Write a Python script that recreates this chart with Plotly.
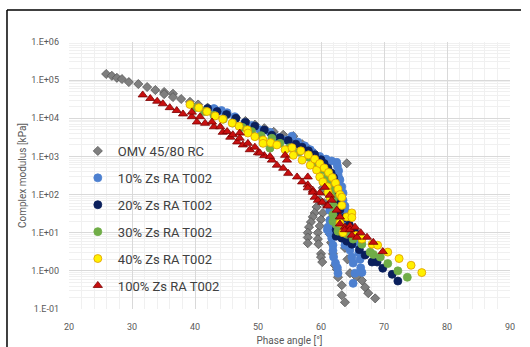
import plotly.graph_objects as go

# ---------------- data (phase angle [deg], complex modulus [kPa]) ----------------
omv_phase = [25.9, 26.8, 27.6, 28.4, 29.5, 31.0, 32.4, 33.7, 35.1, 35.1, 36.5, 36.5, 37.8, 39.2,
             40.5, 42.0, 43.5, 45.0, 46.5, 48.0, 49.5, 51.0, 52.5, 54.0, 55.6, 57.0, 58.0, 59.0,
             60.0, 61.0, 61.6, 64.1,
             60.8, 60.3, 59.8, 59.3, 59.0, 58.7, 58.4, 58.1, 57.9, 57.9, 57.9,
             61.3, 60.9, 60.5, 60.3, 60.0, 59.8, 59.5, 59.5, 59.6, 60.0, 60.0, 60.2,
             62.2, 61.9, 61.7, 61.4, 61.4, 61.6, 61.9, 62.2, 62.5, 62.7, 63.3, 63.3, 63.8,
             63.2, 63.3, 63.5, 63.8, 64.2, 64.6, 65.6, 66.5, 67.0, 67.5, 68.6]
omv_mod = [1.45e5, 1.30e5, 1.15e5, 1.07e5, 8.9e4, 7.9e4, 6.6e4, 5.5e4, 4.9e4, 4.3e4, 4.4e4, 3.6e4, 3.2e4, 2.7e4,
           2.3e4, 1.9e4, 1.6e4, 1.3e4, 1.05e4, 8500, 6800, 5500, 4400, 3700, 3400, 2100, 1600, 1200,
           800, 500, 360, 660,
           250, 150, 71, 47, 33, 26, 19, 14, 10, 7.5, 5.3,
           180, 110, 60, 33, 22, 15, 10, 6.8, 5.0, 2.8, 2.3, 1.7,
           90, 45, 25, 14, 9.1, 5.5, 2.8, 1.4, 1.1, 0.68, 0.42, 0.23, 0.15,
           30, 15, 8, 4, 2.0, 0.87, 0.7, 0.56, 0.37, 0.26, 0.19]

p10_phase = [43.0, 44.2, 45.1, 46.3, 47.9, 49.0, 50.3, 51.9, 53.2, 54.5, 55.4, 56.3, 57.4, 58.3, 58.7,
             59.8, 60.8, 61.7, 62.5, 62.6, 62.8, 62.7, 62.9, 63.0, 63.3, 63.5, 63.5, 63.8, 64.0, 64.1,
             61.8, 61.6, 61.5, 61.4, 61.4, 61.1, 61.0, 61.4, 61.7, 61.9, 61.9, 62.0, 62.3, 62.6, 62.7,
             64.0, 63.9, 63.8, 64.6, 64.9, 65.1, 65.4, 65.1,
             65.4, 65.7, 66.0, 66.2, 66.3, 66.5]
p10_mod = [1.8e4, 1.6e4, 1.4e4, 1.1e4, 7600, 6500, 5000, 4300, 3100, 2700, 3400, 2400, 1900, 1500, 1230,
           1000, 850, 760, 700, 560, 420, 330, 260, 240, 160, 110, 71, 50, 35, 22,
           300, 150, 80, 39, 21, 14, 12, 9.8, 7.2, 4.7, 3.4, 2.3, 1.6, 1.2, 0.87,
           15, 8, 4.7, 3.5, 2.3, 1.6, 0.87, 0.47,
           8, 5, 3, 2.0, 1.2, 0.91]

p20_phase = [42.0, 43.5, 45.0, 46.5, 48.0, 49.5, 51.0, 52.2, 53.5, 54.8, 56.0, 57.0, 58.0, 59.0,
             60.0, 60.5, 61.1, 61.6, 62.0, 62.2, 62.3, 62.4, 62.6, 62.6, 62.5, 62.4, 62.4,
             63.3, 64.1, 64.9, 66.1, 67.0, 68.1, 68.9, 69.8, 71.3, 72.2,
             63.0, 63.8, 64.5, 65.3]
p20_mod = [1.8e4, 1.5e4, 1.25e4, 1.0e4, 7800, 6200, 4900, 3600, 3100, 2600, 2100, 1750, 1400, 1100,
           820, 650, 490, 370, 280, 210, 150, 100, 60, 35, 20, 12, 8.1,
           7.2, 6.0, 5.0, 3.6, 2.6, 1.7, 1.7, 1.17, 0.81, 0.54,
           40, 25, 16, 11]

p30_phase = [40.0, 41.5, 43.0, 44.5, 46.0, 47.5, 49.0, 50.5, 52.2, 51.9, 53.5, 55.0, 56.5, 58.0,
             59.3, 60.3, 61.0, 61.5, 61.8, 62.0, 62.0, 61.9, 61.9, 62.5, 63.2, 64.0, 62.7, 63.5,
             64.1, 65.1, 66.5, 67.8, 68.3, 69.4, 70.6, 72.2, 73.7]
p30_mod = [1.9e4, 1.5e4, 1.2e4, 9500, 7500, 5800, 4500, 3500, 3000, 1650, 2200, 1700, 1300, 950,
           650, 450, 300, 200, 130, 80, 50, 30, 20, 16, 14, 12, 11, 10,
           9.1, 6.8, 5.0, 3.1, 2.7, 2.3, 1.55, 1.0, 0.68]

p40_phase = [39.2, 40.6, 41.9, 43.2, 44.4, 45.9, 47.0, 48.3, 48.4, 49.5, 50.8, 50.8, 52.0, 53.0,
             54.3, 55.6, 57.0, 58.3, 59.3, 59.8, 60.3, 61.0, 61.1, 61.4,
             55.4, 56.8, 58.0, 59.0, 59.8, 60.5, 61.2, 61.8, 62.3, 62.7, 63.0, 63.3, 63.3, 64.1,
             64.9, 64.9, 63.0, 63.5, 65.5, 66.5, 68.1, 69.0, 70.6, 72.4, 74.3, 76.0]
p40_mod = [2.3e4, 1.9e4, 1.5e4, 1.15e4, 9500, 7500, 6200, 5000, 4100, 3300, 2700, 2200, 2300, 2000,
           1500, 1070, 800, 590, 440, 290, 215, 160, 116, 86,
           1700, 1400, 1100, 850, 650, 500, 380, 280, 200, 140, 100, 85, 52, 26,
           33, 25, 18, 10, 8.5, 6.8, 5.0, 4.7, 3.1, 2.1, 1.4, 0.9]

p100_phase = [31.7, 32.9, 34.0, 34.9, 36.0, 37.1, 38.1, 39.5, 40.3, 41.6, 43.0, 44.4, 45.6, 46.7,
              47.6, 48.7, 50.0, 51.0, 52.2, 53.0, 54.0, 54.8, 56.2, 57.0, 57.9, 58.7, 59.8,
              39.5, 40.8, 42.7, 44.0, 45.1, 46.0, 47.1, 47.1, 48.4, 49.5, 50.3, 51.9, 54.3, 54.6,
              57.9, 60.6, 61.4,
              57.9, 58.7, 59.0, 59.5, 60.2, 61.0, 61.1, 61.7, 62.5, 63.0, 63.0, 63.8, 63.8, 64.6,
              64.6, 64.9, 65.4, 65.7, 66.3, 67.3, 68.3, 69.8]
p100_mod = [4.1e4, 3.3e4, 2.8e4, 2.4e4, 1.9e4, 1.6e4, 1.3e4, 1.1e4, 8000, 7400, 6000, 4300, 3200, 2400,
            2000, 1500, 1250, 1050, 800, 590, 490, 360, 290, 215, 180, 130, 110,
            1.45e4, 1.1e4, 8000, 6000, 4500, 3700, 4100, 3000, 2200, 1750, 1230, 1000, 1070, 800,
            290, 155, 96,
            150, 115, 85, 71, 63, 52, 50, 71, 39, 26, 17, 14, 12, 15,
            12, 8.6, 14, 7.6, 10, 7.6, 5.6, 3.2]

y_tickvals = [0.1, 1, 10, 100, 1000, 10000, 100000, 1000000]
y_ticktext = ["1.E-01", "1.E+00", "1.E+01", "1.E+02", "1.E+03", "1.E+04", "1.E+05", "1.E+06"]

series = [
    ("OMV 45/80 RC", omv_phase, omv_mod, "diamond", 7, "#7f7f7f", "#555555"),
    ("10% Zs RA T002", p10_phase, p10_mod, "circle", 8, "#4d80d0", "#4d80d0"),
    ("20% Zs RA T002", p20_phase, p20_mod, "circle", 8, "#0a1f5c", "#0a1f5c"),
    ("30% Zs RA T002", p30_phase, p30_mod, "circle", 8, "#70ad47", "#70ad47"),
    ("40% Zs RA T002", p40_phase, p40_mod, "circle", 8, "#fff000", "#e09a00"),
    ("100% Zs RA T002", p100_phase, p100_mod, "triangle-up", 8, "#c80f0f", "#7a0000"),
]

fig = go.Figure()
for i, (name, xs, ys, sym, size, fill, edge) in enumerate(series):
    fig.add_trace(go.Scatter(
        x=xs, y=ys, mode="markers", name=name, legendgroup=str(i),
        marker=dict(symbol=sym, size=size, color=fill, line=dict(color=edge, width=0.8)),
    ))

fig.update_layout(
    width=530, height=347,
    margin=dict(l=69, r=20, t=42, b=38),
    paper_bgcolor="white", plot_bgcolor="white",
    font=dict(family="Roboto", color="#595959"),
    legend=dict(x=0.02, y=0.648, xanchor="left", yanchor="top",
                bgcolor="rgba(0,0,0,0)", traceorder="grouped", tracegroupgap=7,
                font=dict(family="Roboto", size=13, color="#404040")),
    showlegend=True,
)
fig.update_xaxes(
    range=[20, 90], tick0=20, dtick=10, showgrid=True, gridcolor="#d9d9d9", gridwidth=1,
    minor=dict(dtick=2, showgrid=True, gridcolor="#f0f0f0"),
    zeroline=False, showline=False, ticks="", ticklabelstandoff=11, automargin=False,
    tickfont=dict(size=9, color="#595959"),
    title=dict(text="Phase angle [°]", font=dict(size=10, color="#595959"), standoff=5),
)
fig.update_yaxes(
    type="log", range=[-1, 6], tickmode="array", tickvals=y_tickvals, ticktext=y_ticktext,
    showgrid=True, gridcolor="#d9d9d9", gridwidth=1,
    minor=dict(dtick="D1", showgrid=True, gridcolor="#f0f0f0"),
    zeroline=False, showline=False, ticks="", ticklabelstandoff=9, automargin=False,
    tickfont=dict(size=9, color="#595959"),
    title=dict(text="Complex modulus [kPa]", font=dict(size=10, color="#595959"), standoff=2),
)
# chart-area frame (top and left edges visible in the crop)
fig.add_shape(type="line", xref="paper", yref="paper", x0=-0.1406, x1=1.025, y0=1.12, y1=1.12,
              line=dict(color="black", width=1.5))
fig.add_shape(type="line", xref="paper", yref="paper", x0=-0.1406, x1=-0.1406, y0=1.12, y1=-0.2,
              line=dict(color="black", width=1.5))

fig.write_html("out.html")
